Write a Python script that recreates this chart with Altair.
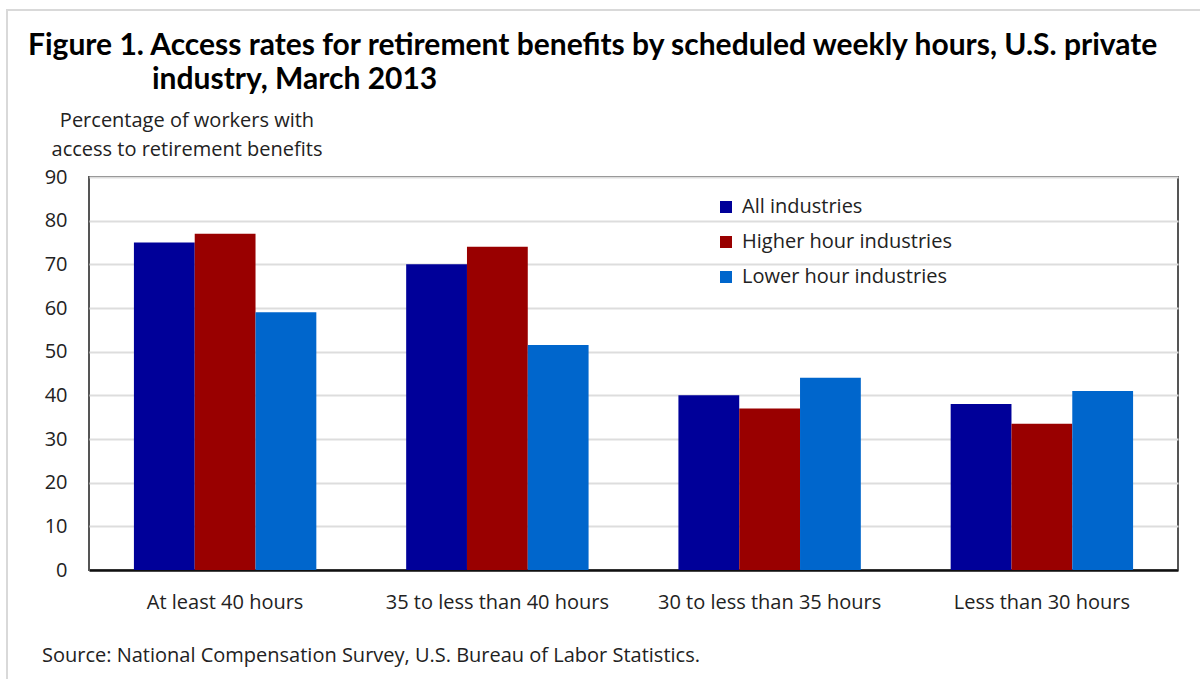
import altair as alt
import pandas as pd

categories = ["At least 40 hours", "35 to less than 40 hours", "30 to less than 35 hours", "Less than 30 hours"]
series = ["All industries", "Higher hour industries", "Lower hour industries"]
all_vals = [75, 70, 40, 38]
higher_vals = [77, 74, 37, 33.5]
lower_vals = [59, 51.5, 44, 41]
colors = ["#000099", "#990000", "#0066CC"]
y_ticks = [0, 10, 20, 30, 40, 50, 60, 70, 80, 90]

title_lines = ["Figure 1. Access rates for retirement benefits by scheduled weekly hours, U.S. private",
               "industry, March 2013"]
y_title_lines = ["Percentage of workers with", "access to retirement benefits"]
source_text = "Source: National Compensation Survey, U.S. Bureau of Labor Statistics."

rows = []
for cat, a, h, l in zip(categories, all_vals, higher_vals, lower_vals):
    rows.append({"category": cat, "series": series[0], "value": a})
    rows.append({"category": cat, "series": series[1], "value": h})
    rows.append({"category": cat, "series": series[2], "value": l})
df = pd.DataFrame(rows)

FONT = "Open Sans"
TFONT = "Lato"
FS = 20

bars = alt.Chart(df).mark_bar().encode(
    x=alt.X("category:N", sort=categories, title=None,
            scale=alt.Scale(paddingInner=0.33, paddingOuter=0.165),
            axis=alt.Axis(labelAngle=0, labelFontSize=FS, labelFont=FONT, labelColor="#222",
                          labelPadding=22, labelLimit=0, ticks=False, domain=True, domainColor="#111",
                          domainWidth=2.5, grid=False)),
    xOffset=alt.XOffset("series:N", sort=series),
    y=alt.Y("value:Q", title=None, scale=alt.Scale(domain=[0, 90], nice=False),
            axis=alt.Axis(values=y_ticks, labelFontSize=FS, labelFont=FONT, labelColor="#222",
                          labelPadding=22, ticks=False, domain=False,
                          gridColor="#dddddd", gridWidth=2)),
    color=alt.Color("series:N", scale=alt.Scale(domain=series, range=colors),
                    legend=alt.Legend(title=None, orient="none", legendX=627, legendY=20,
                                      direction="vertical", symbolType="square", symbolSize=144,
                                      symbolStrokeWidth=0, labelFont=FONT, labelFontSize=FS,
                                      labelLimit=0, labelColor="#222", labelOffset=6,
                                      rowPadding=15, padding=0)),
)

frame = alt.Chart(pd.DataFrame({"k": [0]})).mark_rect(
    fill="white", fillOpacity=0, stroke="#d9d9d9", strokeWidth=2
).encode(x=alt.value(-82), y=alt.value(-167), x2=alt.value(1300), y2=alt.value(700))

title1 = alt.Chart(pd.DataFrame({"t": [title_lines[0]]})).mark_text(
    align="left", baseline="alphabetic", font=TFONT, fontSize=30, fontWeight="bold", color="#000"
).encode(text="t:N", x=alt.value(-61), y=alt.value(-122))

title2 = alt.Chart(pd.DataFrame({"t": [title_lines[1]]})).mark_text(
    align="left", baseline="alphabetic", font=TFONT, fontSize=30, fontWeight="bold", color="#000"
).encode(text="t:N", x=alt.value(63), y=alt.value(-88))

ytitle1 = alt.Chart(pd.DataFrame({"t": [y_title_lines[0]]})).mark_text(
    align="center", baseline="alphabetic", font=FONT, fontSize=FS, color="#222"
).encode(text="t:N", x=alt.value(98), y=alt.value(-50))

ytitle2 = alt.Chart(pd.DataFrame({"t": [y_title_lines[1]]})).mark_text(
    align="center", baseline="alphabetic", font=FONT, fontSize=FS, color="#222"
).encode(text="t:N", x=alt.value(98), y=alt.value(-21))

source = alt.Chart(pd.DataFrame({"t": [source_text]})).mark_text(
    align="left", baseline="alphabetic", font=FONT, fontSize=FS, color="#222"
).encode(text="t:N", x=alt.value(-47), y=alt.value(485))

chart = alt.layer(frame, bars, title1, title2, ytitle1, ytitle2, source).properties(
    width=1089, height=393,
    autosize=alt.AutoSizeParams(type="none"),
    padding={"left": 89, "top": 177, "right": 22, "bottom": 109},
    background="white",
).configure_view(stroke="#555555", strokeWidth=2)

chart.save("out.html", embed_options={"renderer": "svg", "actions": False})
